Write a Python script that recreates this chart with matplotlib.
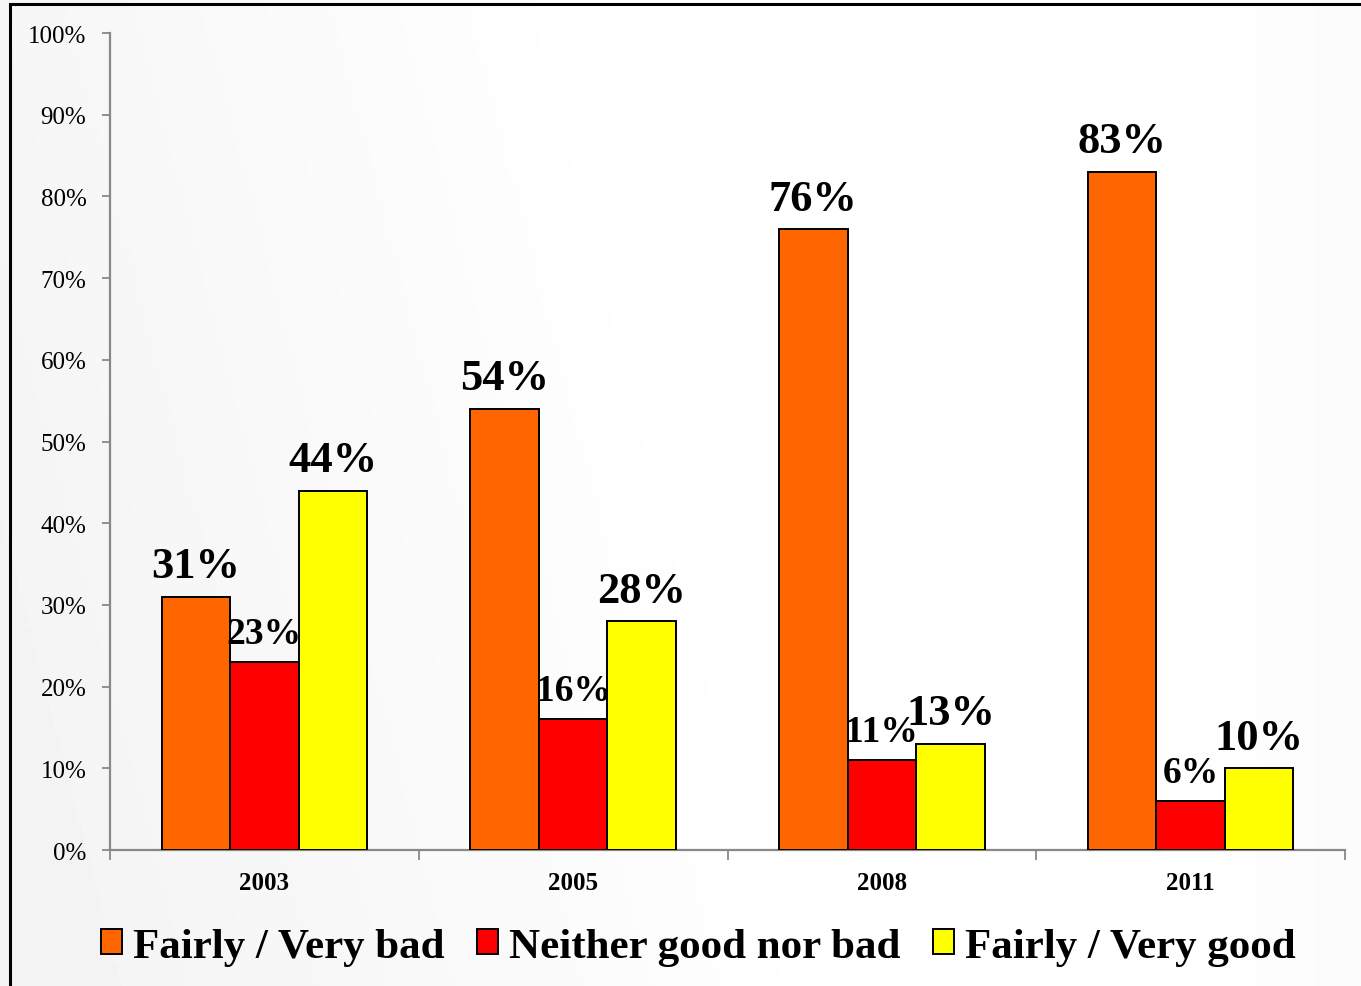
import matplotlib.pyplot as plt
import numpy as np
from matplotlib.patches import Rectangle
from matplotlib.ticker import FixedLocator, PercentFormatter

# data (percent)
years = ['2003', '2005', '2008', '2011']
series = ['Fairly / Very bad', 'Neither good nor bad', 'Fairly / Very good']
bad = [31, 54, 76, 83]
neither = [23, 16, 11, 6]
good = [44, 28, 13, 10]
colors = ['#FF6600', '#FF0000', '#FFFF00']

plt.rcParams['font.family'] = ['Liberation Serif', 'DejaVu Serif']

fig = plt.figure(figsize=(13.61, 9.87), dpi=100)

# soft grey-to-white background
bg = fig.add_axes([0, 0, 1, 1], zorder=-10)
gx, gy = np.meshgrid(np.linspace(0, 1, 300), np.linspace(0, 1, 300))
grad = np.clip(0.95 + 0.05 * (gx * 1.6 + (1 - gy) * 0.3), 0.95, 1.0)
grad = np.where(gx > 0.85, 1 - (gx - 0.85) * 0.1, grad)
bg.imshow(grad, cmap='gray', vmin=0, vmax=1, aspect='auto', extent=[0, 1, 0, 1])
bg.axis('off')

# border (only top and left edges show)
fig.patches.append(Rectangle((10 / 1361, -0.05), 1.2, 1 - 5 / 987 + 0.05,
                             transform=fig.transFigure, fill=False,
                             edgecolor='black', linewidth=2.2, zorder=5))

ax = fig.add_axes([110 / 1361, 1 - 851 / 987, (1345 - 110) / 1361, (851 - 34) / 987])
ax.patch.set_alpha(0)

x = np.arange(len(years))
w = 0.222
vals = [bad, neither, good]
for i, (name, v, c) in enumerate(zip(series, vals, colors)):
    pos = x + (i - 1) * w
    ax.bar(pos, np.array(v) / 100, w, color=c, edgecolor='black',
           linewidth=1.4, label=name, zorder=3)
    fs = 27 if i == 1 else 32
    for xp, val in zip(pos, v):
        ax.annotate(f'{val}%', (xp, val / 100), xytext=(0, 14),
                    textcoords='offset points', ha='center', va='baseline',
                    fontsize=fs, fontweight='bold', zorder=4)

ax.set_xlim(-0.5, len(years) - 0.5)
ax.set_ylim(0, 1)
ax.yaxis.set_major_locator(FixedLocator(np.linspace(0, 1, 11)))
ax.yaxis.set_major_formatter(PercentFormatter(1.0, decimals=0))
ax.tick_params(axis='y', labelsize=18, length=6, width=1.3, color='#888888',
               pad=11, direction='out')

ax.set_xticks(np.arange(len(years) + 1) - 0.5)
ax.set_xticklabels([])
ax.set_xticks(x, minor=True)
ax.set_xticklabels(years, minor=True, fontsize=18, fontweight='bold')
ax.tick_params(axis='x', which='major', length=7, width=1.3, color='#888888',
               direction='out')
ax.tick_params(axis='x', which='minor', length=0, pad=15)

for s in ['top', 'right']:
    ax.spines[s].set_visible(False)
for s in ['left', 'bottom']:
    ax.spines[s].set_color('#888888')
    ax.spines[s].set_linewidth(1.6)

fig.legend(loc='center', bbox_to_anchor=(698 / 1361, 1 - 948 / 987), ncol=3,
           frameon=False, prop={'size': 31, 'weight': 'bold'},
           handlelength=0.5, handleheight=0.5, handletextpad=0.25,
           columnspacing=0.75)

fig.savefig('out.png', dpi=100)
